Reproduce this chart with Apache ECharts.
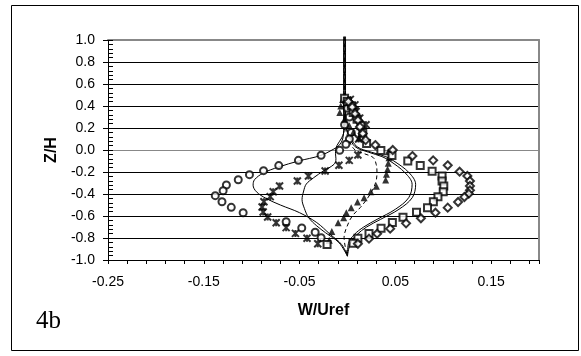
<!DOCTYPE html>
<html>
<head>
<meta charset="utf-8">
<script src="https://cdn.jsdelivr.net/npm/echarts@6/dist/echarts.min.js"></script>
<style>
  html, body { margin: 0; padding: 0; background: #fff; }
  #chart { width: 581px; height: 356px; }
</style>
</head>
<body>
<div id="chart"></div>
<script>
// Vertical velocity profiles W/Uref against height Z/H

// Measured profiles (markers)
const circleW = [-0.002, 0.000, 0.002, -0.003, 0.004, 0.002, -0.0016, -0.0081, -0.0275, -0.0512, -0.0717, -0.0876, -0.1023, -0.1140, -0.1264, -0.1298, -0.1380, -0.1310, -0.1213, -0.1089, -0.0640, -0.0477, -0.0337, -0.0275];
const circleZ = [0.45, 0.38, 0.30, 0.23, 0.16, 0.10, 0.052, -0.003, -0.048, -0.094, -0.142, -0.188, -0.224, -0.270, -0.318, -0.370, -0.415, -0.470, -0.521, -0.570, -0.652, -0.709, -0.748, -0.797];

const starW = [0.003, 0.0078, 0.009, 0.0128, 0.0194, 0.0155, 0.0116, 0.0109, 0.0019, -0.0089, -0.0233, -0.0407, -0.0523, -0.0709, -0.0775, -0.0806, -0.0872, -0.0891, -0.0880, -0.0833, -0.0744, -0.0640, -0.0543, -0.0422, -0.0310];
const starZ = [0.46, 0.41, 0.35, 0.29, 0.23, 0.167, 0.10, -0.045, -0.094, -0.139, -0.191, -0.236, -0.282, -0.327, -0.379, -0.424, -0.470, -0.518, -0.564, -0.609, -0.661, -0.706, -0.758, -0.803, -0.852];

const triangleW = [-0.005, -0.007, -0.008, -0.003, 0.002, 0.006, 0.012, 0.0426, 0.0434, 0.0426, 0.0419, 0.0407, 0.0399, 0.0302, 0.0244, 0.0174, 0.0105, 0.0039, -0.0012, -0.0039, -0.0097, -0.0163, -0.0190];
const triangleZ = [0.46, 0.40, 0.34, 0.28, 0.22, 0.16, 0.11, -0.015, -0.070, -0.121, -0.176, -0.221, -0.273, -0.330, -0.379, -0.433, -0.473, -0.524, -0.570, -0.615, -0.661, -0.742, -0.821];

const squareW = [-0.003, 0.000, 0.004, 0.006, 0.010, 0.014, 0.016, 0.020, 0.0349, 0.0465, 0.0630, 0.0760, 0.0884, 0.0988, 0.0988, 0.1006, 0.1000, 0.0945, 0.0897, 0.0836, 0.0721, 0.0580, 0.0469, 0.0351, 0.0225, 0.0109, 0.0058, -0.0213];
const squareZ = [0.47, 0.44, 0.40, 0.34, 0.28, 0.22, 0.16, 0.06, -0.005, -0.050, -0.100, -0.142, -0.194, -0.236, -0.282, -0.327, -0.380, -0.425, -0.471, -0.524, -0.566, -0.612, -0.658, -0.712, -0.758, -0.803, -0.848, -0.858];

const diamondW = [0.001, 0.005, 0.008, 0.011, 0.013, 0.016, 0.019, 0.0291, 0.0473, 0.0678, 0.0895, 0.1047, 0.1171, 0.1252, 0.1279, 0.1279, 0.1279, 0.1267, 0.1221, 0.1155, 0.1047, 0.0919, 0.0767, 0.0612, 0.0446, 0.0310, 0.0225, 0.0109];
const diamondZ = [0.44, 0.39, 0.33, 0.27, 0.21, 0.15, 0.09, 0.045, 0.0, -0.055, -0.094, -0.139, -0.197, -0.236, -0.282, -0.327, -0.367, -0.397, -0.427, -0.473, -0.524, -0.570, -0.621, -0.667, -0.715, -0.761, -0.806, -0.852];

// Computed profiles (curves)
const curveAW = [-0.004, -0.004, -0.004, -0.005, -0.009, -0.015, -0.028, -0.051, -0.072, -0.088, -0.097, -0.0985, -0.095, -0.085, -0.070, -0.050, -0.032, -0.018, -0.006, 0.0];
const curveAZ = [1.03, 0.40, 0.20, 0.10, 0.04, 0.005, -0.05, -0.10, -0.155, -0.21, -0.27, -0.32, -0.38, -0.44, -0.50, -0.57, -0.66, -0.767, -0.86, -0.965];

const curveBW = [-0.0035, -0.0035, -0.003, -0.006, -0.011, -0.0125, -0.012, -0.014, -0.025, -0.0353, -0.043, -0.0457, -0.0474, -0.045, -0.0405, -0.032, -0.0229, -0.0089, 0.0];
const curveBZ = [1.03, 0.40, 0.20, 0.11, 0.04, -0.03, -0.08, -0.13, -0.19, -0.252, -0.31, -0.373, -0.45, -0.53, -0.615, -0.69, -0.752, -0.842, -0.965];

const curveCW = [-0.003, -0.003, -0.002, 0.002, 0.008, 0.018, 0.0271, 0.030, 0.0308, 0.030, 0.0256, 0.020, 0.0133, 0.006, 0.0012, -0.0035, 0.0];
const curveCZ = [1.03, 0.40, 0.20, 0.08, 0.0, -0.035, -0.07, -0.13, -0.191, -0.28, -0.373, -0.45, -0.524, -0.59, -0.661, -0.797, -0.965];

const curveDW = [-0.0025, -0.0025, -0.001, 0.003, 0.010, 0.025, 0.040, 0.0485, 0.0643, 0.0712, 0.0677, 0.0538, 0.0347, 0.020, 0.0099, 0.003, 0.0];
const curveDZ = [1.03, 0.40, 0.20, 0.12, 0.03, -0.02, -0.06, -0.10, -0.206, -0.312, -0.433, -0.539, -0.630, -0.70, -0.77, -0.85, -0.965];

const curveEW = [-0.002, -0.002, -0.001, 0.002, 0.008, 0.022, 0.036, 0.0445, 0.060, 0.0675, 0.064, 0.050, 0.031, 0.017, 0.007, 0.001, 0.0];
const curveEZ = [1.03, 0.40, 0.20, 0.12, 0.03, -0.02, -0.06, -0.10, -0.206, -0.312, -0.433, -0.539, -0.630, -0.70, -0.77, -0.85, -0.965];

// Axis ranges and tick steps
const wMin = -0.25, wMax = 0.2, wStep = 0.02;
const zMin = -1.0, zMax = 1.0, zStep = 0.2;

const sans = '"Liberation Sans", Arial, Helvetica, sans-serif';
const zip = (a, b) => a.map((v, i) => [v, b[i]]);

function curve(w, z, dashed) {
  return {
    type: 'line', data: zip(w, z), symbol: 'none', showSymbol: false,
    smooth: 0.35, clip: false, z: 2, silent: true,
    lineStyle: { color: '#000', width: 1, type: dashed ? [4, 3] : 'solid' }
  };
}
function markers(w, z, symbol, size, style) {
  return {
    type: 'scatter', data: zip(w, z), symbol: symbol, symbolSize: size,
    z: 3, silent: true, itemStyle: style
  };
}

const hollow = { color: '#fff', borderColor: '#000', borderWidth: 2 };
const starPath = 'path://M0,0L10,10M10,0L0,10M5,0L5,10';

const option = {
  animation: false,
  backgroundColor: '#fff',
  grid: { left: 108, top: 40, width: 431, height: 220, containLabel: false },
  xAxis: [
    {
      type: 'value', min: wMin, max: wMax, interval: wStep, position: 'bottom',
      axisLine: { show: true, onZero: false, lineStyle: { color: '#000', width: 1 } },
      axisTick: { show: true, length: 4, lineStyle: { color: '#000' } },
      splitLine: { show: false },
      axisLabel: {
        color: '#000', fontSize: 14, fontFamily: sans, margin: 15,
        formatter: v => { const k = Math.round(v * 100); return ((k + 25) % 10 === 0) ? v.toFixed(2) : ''; }
      },
      name: 'W/Uref', nameLocation: 'middle', nameGap: 43,
      nameTextStyle: { color: '#000', fontSize: 16, fontWeight: 'bold', fontFamily: sans }
    },
    {
      type: 'value', min: wMin, max: wMax, position: 'top',
      axisLine: { show: true, onZero: false, lineStyle: { color: '#888', width: 2 } },
      axisTick: { show: false }, axisLabel: { show: false }, splitLine: { show: false }
    }
  ],
  yAxis: [
    {
      type: 'value', min: zMin, max: zMax, interval: zStep, position: 'left',
      axisLine: { show: true, onZero: false, lineStyle: { color: '#000', width: 1 } },
      axisTick: { show: true, length: 5, lineStyle: { color: '#000' } },
      axisLabel: { color: '#000', fontSize: 14, fontFamily: sans, margin: 13, formatter: v => v.toFixed(1) },
      splitLine: { show: true, lineStyle: { width: 1, color: ['#000', '#000', '#000', '#000', '#000', '#888', '#000', '#000', '#000', '#000', '#888'] } },
      name: 'Z/H', nameLocation: 'middle', nameRotate: 90, nameGap: 45,
      nameTextStyle: { color: '#000', fontSize: 16, fontWeight: 'bold', fontFamily: sans }
    },
    {
      type: 'value', min: zMin, max: zMax, interval: zStep, position: 'left',
      axisLine: { show: false, onZero: false },
      axisTick: { show: true, inside: true, length: 5, lineStyle: { color: '#000' } },
      minorTick: { show: true, splitNumber: 5, length: 5, lineStyle: { color: '#000' } },
      axisLabel: { show: false }, splitLine: { show: false }
    },
    {
      type: 'value', min: zMin, max: zMax, position: 'right',
      axisLine: { show: true, onZero: false, lineStyle: { color: '#888', width: 2 } },
      axisTick: { show: false }, axisLabel: { show: false }, splitLine: { show: false }
    }
  ],
  series: [
    curve(curveAW, curveAZ, false),
    curve(curveBW, curveBZ, false),
    curve(curveCW, curveCZ, true),
    curve(curveDW, curveDZ, false),
    curve(curveEW, curveEZ, false),
    markers(circleW, circleZ, 'circle', 7, hollow),
    markers(starW, starZ, starPath, 7, { color: 'none', borderColor: '#000', borderWidth: 2 }),
    markers(triangleW, triangleZ, 'triangle', 7, { color: '#000' }),
    markers(squareW, squareZ, 'rect', 7, hollow),
    markers(diamondW, diamondZ, 'diamond', 8, hollow)
  ],
  graphic: [
    {
      type: 'rect', silent: true, z: 100,
      shape: { x: 11.5, y: 5.5, width: 567, height: 345 },
      style: { fill: 'none', stroke: '#000', lineWidth: 1 }
    },
    {
      type: 'text', left: 36, top: 309, silent: true,
      style: { text: '4b', font: '25px "Liberation Serif", "Times New Roman", serif', fill: '#000' }
    }
  ]
};

const chart = echarts.init(document.getElementById('chart'), null, { renderer: 'canvas' });
chart.setOption(option);
</script>
</body>
</html>
